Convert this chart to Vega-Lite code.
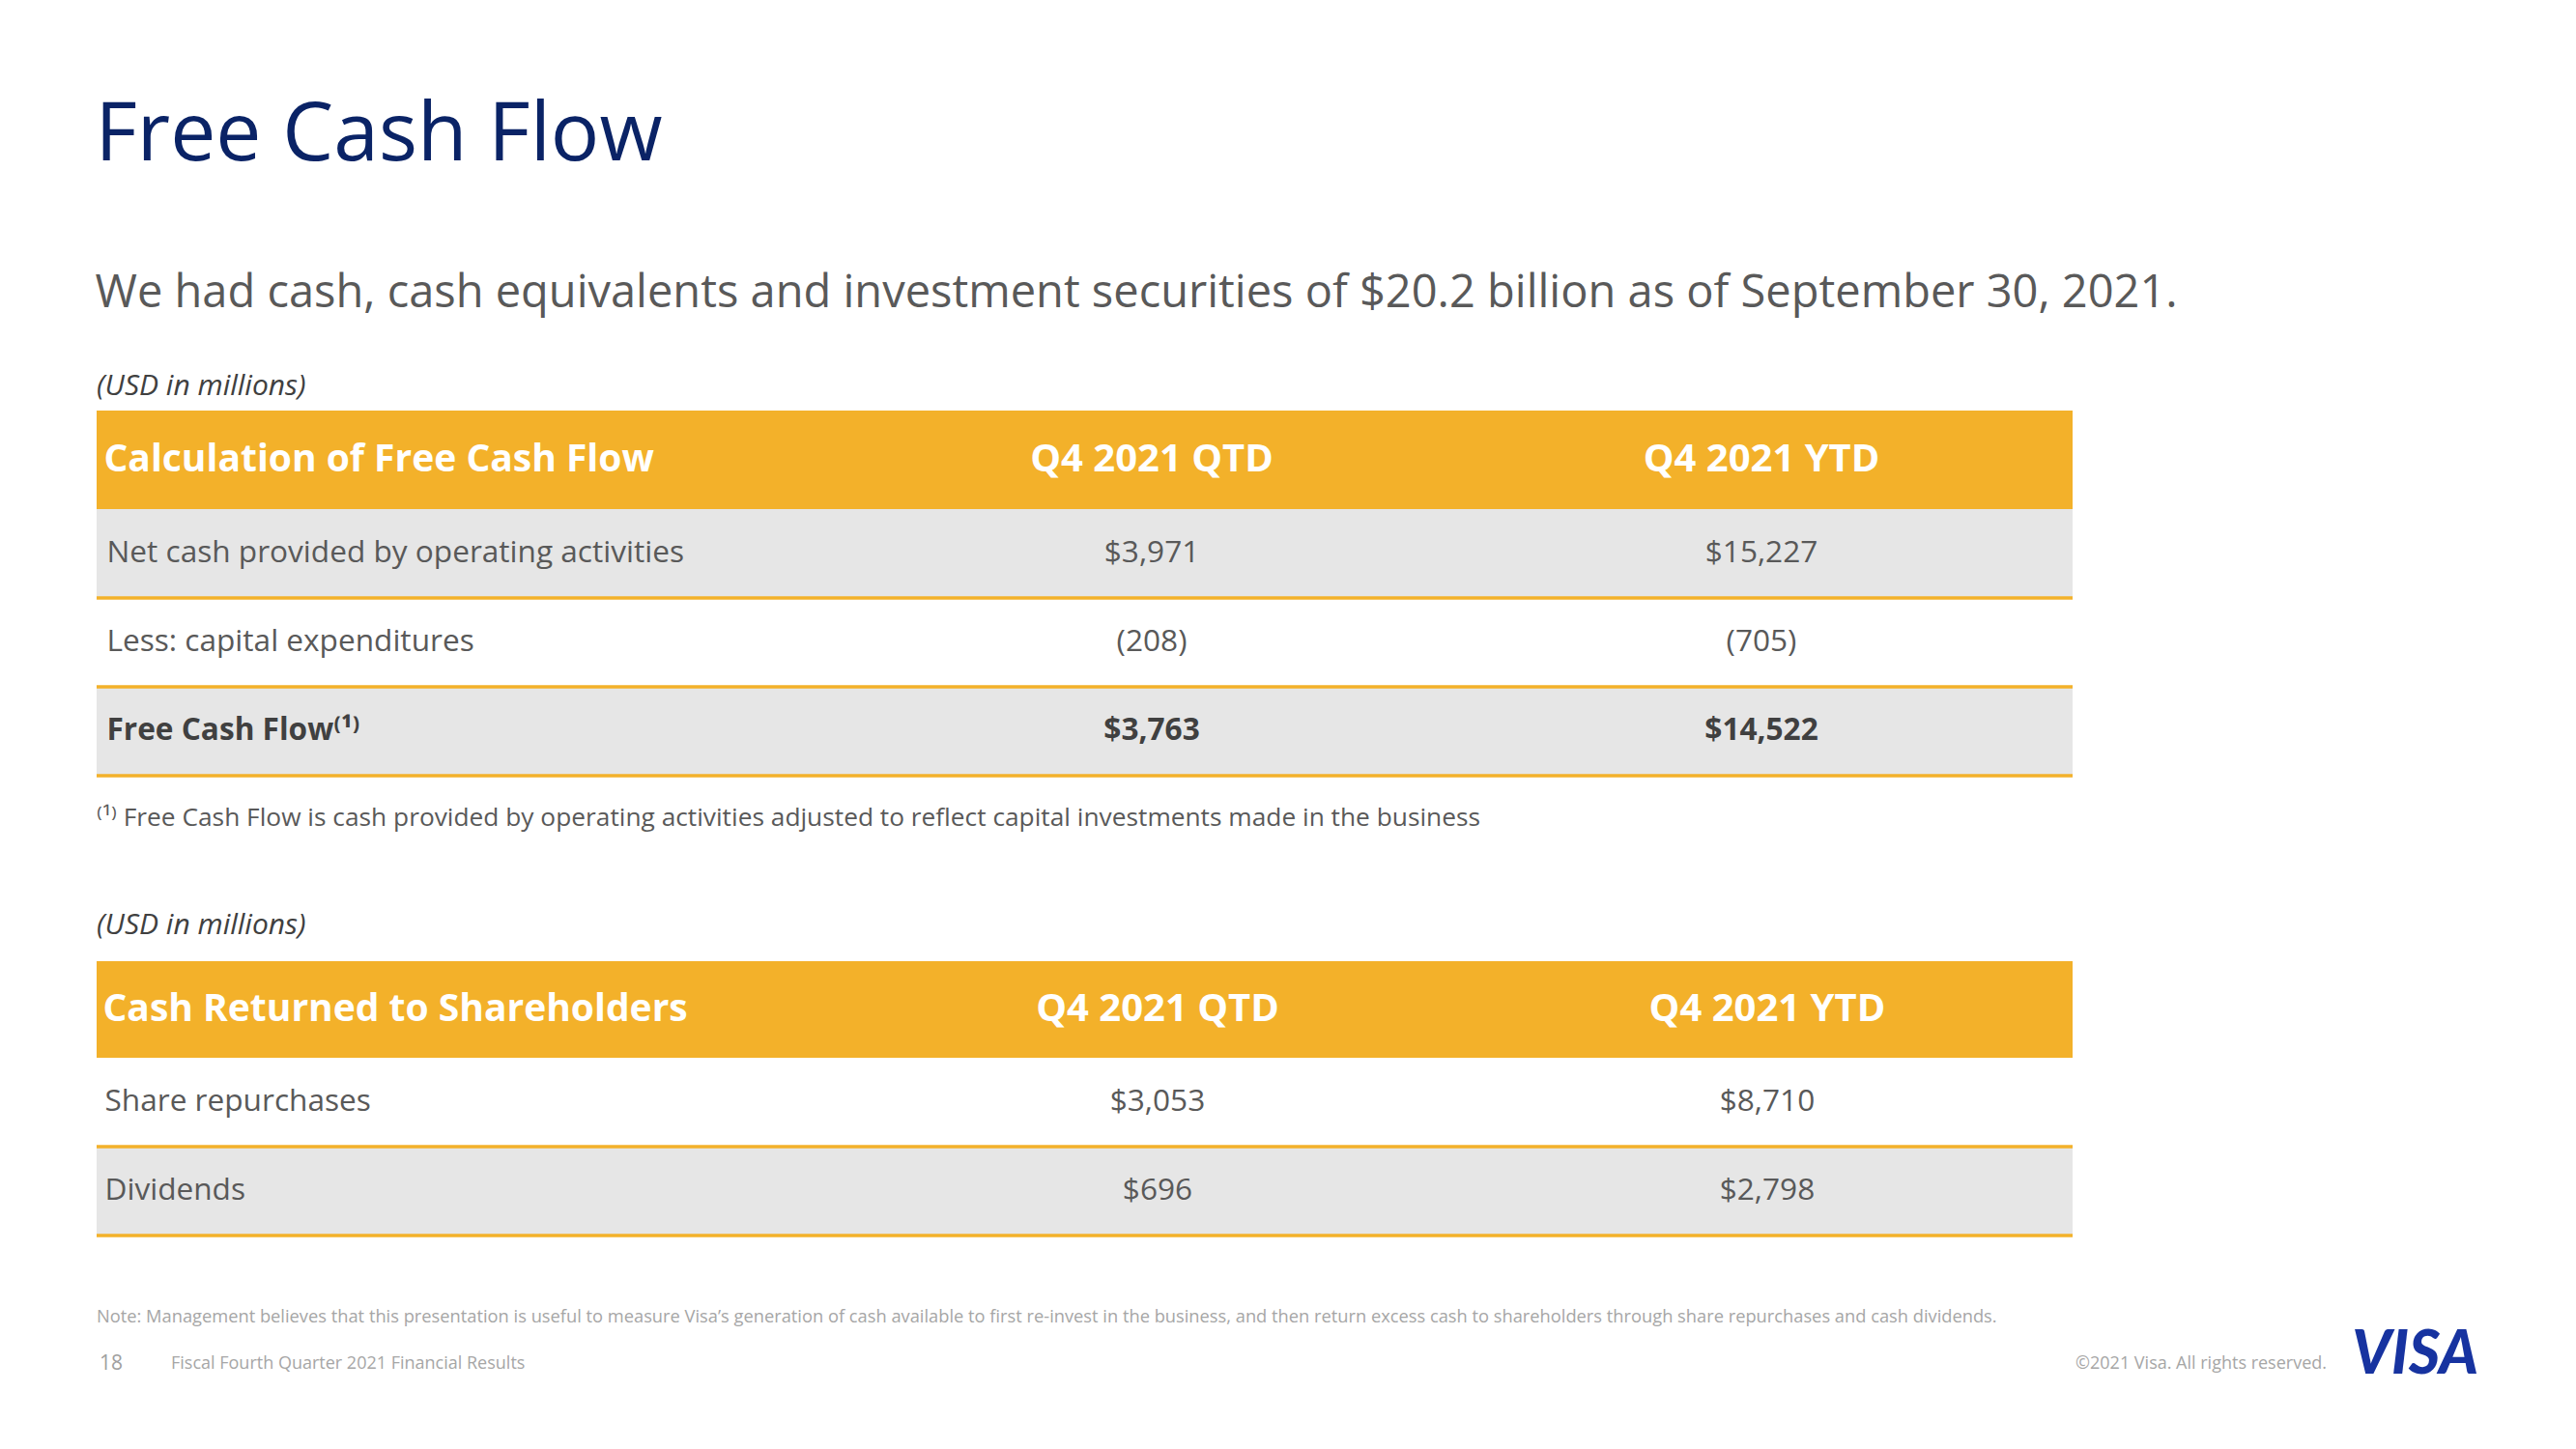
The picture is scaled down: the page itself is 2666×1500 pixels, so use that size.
{
  "$schema": "https://vega.github.io/schema/vega-lite/v6.json",
  "background": "white",
  "padding": {"left": 98, "top": 99, "right": 0, "bottom": 0},
  "bounds": "flush",
  "spacing": 0,
  "title": {
    "text": "Free Cash Flow",
    "subtitle": "We had cash, cash equivalents and investment securities of $20.2 billion as of September 30, 2021.",
    "anchor": "start",
    "font": "Open Sans",
    "fontSize": 84,
    "fontWeight": "normal",
    "color": "#0A2366",
    "subtitleFont": "Open Sans",
    "subtitleFontSize": 47,
    "subtitleColor": "#595959",
    "subtitlePadding": 97,
    "offset": 57
  },
  "resolve": {"scale": {"x": "independent", "y": "independent"}},
  "datasets": {
    "fcf": [
      {"table": "Calculation of Free Cash Flow", "n": 1, "item": "Net cash provided by operating activities", "period": "Q4 2021 QTD", "amount": 3971, "total": false},
      {"table": "Calculation of Free Cash Flow", "n": 1, "item": "Net cash provided by operating activities", "period": "Q4 2021 YTD", "amount": 15227, "total": false},
      {"table": "Calculation of Free Cash Flow", "n": 2, "item": "Less: capital expenditures", "period": "Q4 2021 QTD", "amount": -208, "total": false},
      {"table": "Calculation of Free Cash Flow", "n": 2, "item": "Less: capital expenditures", "period": "Q4 2021 YTD", "amount": -705, "total": false},
      {"table": "Calculation of Free Cash Flow", "n": 3, "item": "Free Cash Flow⁽¹⁾", "period": "Q4 2021 QTD", "amount": 3763, "total": true},
      {"table": "Calculation of Free Cash Flow", "n": 3, "item": "Free Cash Flow⁽¹⁾", "period": "Q4 2021 YTD", "amount": 14522, "total": true}
    ],
    "crs": [
      {"table": "Cash Returned to Shareholders", "n": 1, "item": "Share repurchases", "period": "Q4 2021 QTD", "amount": 3053, "total": false},
      {"table": "Cash Returned to Shareholders", "n": 1, "item": "Share repurchases", "period": "Q4 2021 YTD", "amount": 8710, "total": false},
      {"table": "Cash Returned to Shareholders", "n": 2, "item": "Dividends", "period": "Q4 2021 QTD", "amount": 696, "total": false},
      {"table": "Cash Returned to Shareholders", "n": 2, "item": "Dividends", "period": "Q4 2021 YTD", "amount": 2798, "total": false}
    ],
    "footer": [
      {"part": "page", "text": "18"},
      {"part": "deck", "text": "Fiscal Fourth Quarter 2021 Financial Results"},
      {"part": "rights", "text": "©2021 Visa. All rights reserved."},
      {"part": "logo", "text": "VISA"}
    ]
  },
  "vconcat": [
    {
      "width": 2045,
      "height": 102,
      "data": {"name": "fcf"},
      "transform": [{"aggregate": [{"op": "count", "as": "cells"}], "groupby": ["table", "period"]}],
      "title": {"text": "(USD in millions)", "anchor": "start", "font": "Open Sans", "fontStyle": "italic", "fontSize": 30, "fontWeight": "normal", "color": "#404040", "offset": 10},
      "encoding": {
        "y": {"field": "table", "type": "nominal", "title": null,
          "axis": {"title": null, "domain": false, "ticks": false, "grid": false, "labelAlign": "left", "labelBaseline": "middle", "labelPadding": -7, "labelFont": "Open Sans", "labelFontSize": 39, "labelFontWeight": "bold", "labelColor": "#FFFFFF", "labelLimit": 1500, "labelOverlap": false, "zindex": 1}}
      },
      "layer": [
        {
          "mark": {"type": "rect", "color": "#F3B12A", "strokeWidth": 0}
        },
        {
          "mark": {"type": "text", "font": "Open Sans", "fontSize": 40, "fontWeight": "bold", "color": "#FFFFFF"},
          "encoding": {
            "x": {"field": "period", "type": "nominal", "scale": {"type": "band", "paddingInner": 0.7591, "paddingOuter": 1, "align": 0.8051}, "axis": null},
            "text": {"field": "period"}
          }
        }
      ]
    },
    {
      "width": 2045,
      "height": 460,
      "data": {"name": "fcf"},
      "encoding": {
        "y": {"field": "item", "type": "nominal", "title": null, "sort": {"field": "n", "op": "min"}, "scale": {"paddingInner": 0, "paddingOuter": 1, "align": 0},
          "axis": {"title": null, "domain": false, "ticks": false, "grid": false, "labelAlign": "left", "labelBaseline": "middle", "labelPadding": -10, "labelFont": "Open Sans", "labelFontSize": 31.6, "labelColor": {"condition": {"test": "datum.value == 'Free Cash Flow⁽¹⁾'", "value": "#404040"}, "value": "#595959"}, "labelFontWeight": {"condition": {"test": "datum.value == 'Free Cash Flow⁽¹⁾'", "value": "bold"}, "value": "normal"}, "labelLimit": 1500, "labelOverlap": false, "zindex": 1}}
      },
      "layer": [
        {
          "mark": {"type": "rect", "strokeWidth": 0},
          "encoding": {"fill": {"condition": {"test": "datum.n % 2 == 1", "value": "#E6E6E6"}, "value": "#FFFFFF"}}
        },
        {
          "mark": {"type": "rule", "color": "#F3B12A", "strokeWidth": 3},
          "encoding": {
            "y": {"field": "item", "type": "nominal", "title": null, "sort": {"field": "n", "op": "min"}, "bandPosition": 1,
              "axis": {"title": null, "domain": false, "ticks": false, "grid": false, "labelAlign": "left", "labelBaseline": "middle", "labelPadding": -10, "labelFont": "Open Sans", "labelFontSize": 31.6, "labelColor": {"condition": {"test": "datum.value == 'Free Cash Flow⁽¹⁾'", "value": "#404040"}, "value": "#595959"}, "labelFontWeight": {"condition": {"test": "datum.value == 'Free Cash Flow⁽¹⁾'", "value": "bold"}, "value": "normal"}, "labelLimit": 1500, "labelOverlap": false, "zindex": 1}}
          }
        },
        {
          "transform": [{"filter": "datum.amount >= 0 && !datum.total"}],
          "mark": {"type": "text", "font": "Open Sans", "fontSize": 31.6, "color": "#595959"},
          "encoding": {
            "x": {"field": "period", "type": "nominal", "scale": {"type": "band", "paddingInner": 0.7591, "paddingOuter": 1, "align": 0.8051}, "axis": null},
            "text": {"field": "amount", "type": "quantitative", "format": "$,.0f"}
          }
        },
        {
          "transform": [{"filter": "datum.amount < 0"}],
          "mark": {"type": "text", "font": "Open Sans", "fontSize": 31.6, "color": "#595959"},
          "encoding": {
            "x": {"field": "period", "type": "nominal", "scale": {"type": "band", "paddingInner": 0.7591, "paddingOuter": 1, "align": 0.8051}, "axis": null},
            "text": {"field": "amount", "type": "quantitative", "format": "(,.0f"}
          }
        },
        {
          "transform": [{"filter": "datum.total"}],
          "mark": {"type": "text", "font": "Open Sans", "fontSize": 31.6, "fontWeight": "bold", "color": "#404040"},
          "encoding": {
            "x": {"field": "period", "type": "nominal", "scale": {"type": "band", "paddingInner": 0.7591, "paddingOuter": 1, "align": 0.8051}, "axis": null},
            "text": {"field": "amount", "type": "quantitative", "format": "$,.0f"}
          }
        }
      ]
    },
    {
      "width": 2045,
      "height": 108,
      "data": {"name": "crs"},
      "transform": [{"aggregate": [{"op": "count", "as": "cells"}], "groupby": ["table", "period"]}],
      "title": {
        "text": "⁽¹⁾ Free Cash Flow is cash provided by operating activities adjusted to reflect capital investments made in the business",
        "subtitle": "(USD in millions)",
        "anchor": "start",
        "font": "Open Sans",
        "fontSize": 26.3,
        "fontWeight": "normal",
        "color": "#595959",
        "subtitleFont": "Open Sans",
        "subtitleFontSize": 30,
        "subtitleFontStyle": "italic",
        "subtitleColor": "#404040",
        "subtitlePadding": 83,
        "offset": 14
      },
      "encoding": {
        "y": {"field": "table", "type": "nominal", "title": null, "scale": {"paddingInner": 0, "paddingOuter": 0.04, "align": 1},
          "axis": {"title": null, "domain": false, "ticks": false, "grid": false, "labelAlign": "left", "labelBaseline": "middle", "labelPadding": -6, "labelFont": "Open Sans", "labelFontSize": 39, "labelFontWeight": "bold", "labelColor": "#FFFFFF", "labelLimit": 1500, "labelOverlap": false, "zindex": 1}}
      },
      "layer": [
        {
          "mark": {"type": "rect", "color": "#F3B12A", "strokeWidth": 0}
        },
        {
          "mark": {"type": "text", "font": "Open Sans", "fontSize": 40, "fontWeight": "bold", "color": "#FFFFFF"},
          "encoding": {
            "x": {"field": "period", "type": "nominal", "scale": {"type": "band", "paddingInner": 0.7591, "paddingOuter": 1, "align": 0.8098}, "axis": null},
            "text": {"field": "period"}
          }
        }
      ]
    },
    {
      "width": 2045,
      "height": 297,
      "data": {"name": "crs"},
      "encoding": {
        "y": {"field": "item", "type": "nominal", "title": null, "sort": {"field": "n", "op": "min"}, "scale": {"paddingInner": 0, "paddingOuter": 0.614, "align": 0},
          "axis": {"title": null, "domain": false, "ticks": false, "grid": false, "labelAlign": "left", "labelBaseline": "middle", "labelPadding": -8, "labelFont": "Open Sans", "labelFontSize": 31.6, "labelColor": "#595959", "labelLimit": 1500, "labelOverlap": false, "zindex": 1}}
      },
      "layer": [
        {
          "mark": {"type": "rect", "strokeWidth": 0},
          "encoding": {"fill": {"condition": {"test": "datum.n % 2 == 0", "value": "#E6E6E6"}, "value": "#FFFFFF"}}
        },
        {
          "mark": {"type": "rule", "color": "#F3B12A", "strokeWidth": 3},
          "encoding": {
            "y": {"field": "item", "type": "nominal", "title": null, "sort": {"field": "n", "op": "min"}, "bandPosition": 1,
              "axis": {"title": null, "domain": false, "ticks": false, "grid": false, "labelAlign": "left", "labelBaseline": "middle", "labelPadding": -8, "labelFont": "Open Sans", "labelFontSize": 31.6, "labelColor": "#595959", "labelLimit": 1500, "labelOverlap": false, "zindex": 1}}
          }
        },
        {
          "mark": {"type": "text", "font": "Open Sans", "fontSize": 31.6, "color": "#595959"},
          "encoding": {
            "x": {"field": "period", "type": "nominal", "scale": {"type": "band", "paddingInner": 0.7591, "paddingOuter": 1, "align": 0.8098}, "axis": null},
            "text": {"field": "amount", "type": "quantitative", "format": "$,.0f"}
          }
        }
      ]
    },
    {
      "bounds": "flush",
      "spacing": 47,
      "resolve": {"scale": {"x": "independent"}},
      "title": {
        "text": "Note: Management believes that this presentation is useful to measure Visa’s generation of cash available to first re-invest in the business, and then return excess cash to shareholders through share repurchases and cash dividends.",
        "anchor": "start",
        "font": "Open Sans",
        "fontSize": 18.3,
        "fontWeight": "normal",
        "color": "#A6A6A6",
        "offset": -1
      },
      "hconcat": [
        {
          "width": 30,
          "height": 40,
          "data": {"name": "footer"},
          "transform": [{"filter": "datum.part == 'page'"}],
          "mark": {"type": "text", "font": "Open Sans", "fontSize": 21, "color": "#A0A0A0"},
          "encoding": {
            "x": {"field": "part", "type": "nominal", "axis": null},
            "text": {"field": "text"}
          }
        },
        {
          "width": 2231,
          "height": 40,
          "data": {"name": "footer"},
          "layer": [
            {
              "transform": [{"filter": "datum.part == 'deck'"}],
              "mark": {"type": "text", "align": "left", "font": "Open Sans", "fontSize": 18, "color": "#A6A6A6"},
              "encoding": {
                "x": {"field": "part", "type": "nominal", "bandPosition": 0, "scale": {"type": "band", "domain": ["deck", "rights"], "paddingInner": 0, "paddingOuter": 0}, "axis": null},
                "text": {"field": "text"}
              }
            },
            {
              "transform": [{"filter": "datum.part == 'rights'"}],
              "mark": {"type": "text", "align": "right", "font": "Open Sans", "fontSize": 18, "color": "#A6A6A6"},
              "encoding": {
                "x": {"field": "part", "type": "nominal", "bandPosition": 1, "scale": {"type": "band", "domain": ["deck", "rights"], "paddingInner": 0, "paddingOuter": 0}, "axis": null},
                "text": {"field": "text"}
              }
            }
          ]
        },
        {
          "width": 110,
          "height": 22,
          "data": {"name": "footer"},
          "transform": [{"filter": "datum.part == 'logo'"}],
          "mark": {"type": "text", "align": "right", "font": "Lato", "fontSize": 62, "fontWeight": 900, "fontStyle": "italic", "color": "#1733A0"},
          "encoding": {
            "x": {"field": "part", "type": "nominal", "bandPosition": 1, "scale": {"type": "band", "paddingInner": 0, "paddingOuter": 0}, "axis": null},
            "text": {"field": "text"}
          }
        }
      ]
    }
  ],
  "config": {
    "view": {"stroke": null},
    "font": "Open Sans",
    "scale": {"bandPaddingInner": 0, "bandPaddingOuter": 0}
  }
}
